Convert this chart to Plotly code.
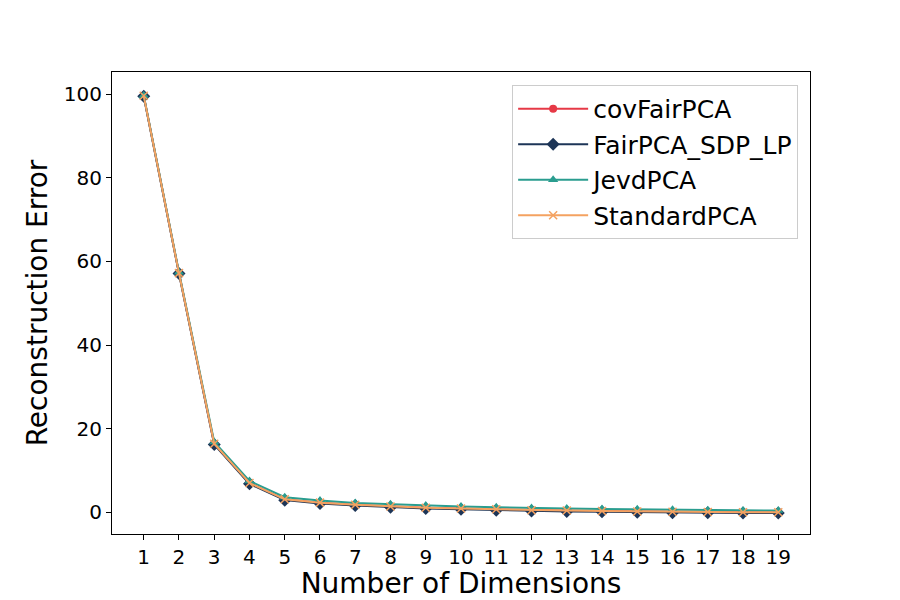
import plotly.graph_objects as go

dims = list(range(1, 20))
cov_fair_pca = [99.6, 57.2, 16.4, 7.0, 3.1, 2.3, 1.8, 1.4, 1.1, 0.9, 0.7, 0.5, 0.4, 0.3, 0.2, 0.1, 0.05, 0.0, 0.0]
fair_pca_sdp_lp = [99.5, 57.1, 16.2, 6.8, 2.9, 2.1, 1.6, 1.2, 0.9, 0.7, 0.5, 0.3, 0.2, 0.1, 0.0, -0.1, -0.1, -0.2, -0.2]
jevd_pca = [99.7, 57.4, 16.8, 7.5, 3.6, 2.8, 2.2, 1.9, 1.6, 1.4, 1.2, 1.0, 0.9, 0.8, 0.7, 0.6, 0.5, 0.45, 0.4]
standard_pca = [99.6, 57.2, 16.4, 7.0, 3.1, 2.3, 1.8, 1.4, 1.1, 0.9, 0.7, 0.5, 0.4, 0.3, 0.2, 0.1, 0.05, 0.0, 0.0]
y_ticks = [0, 20, 40, 60, 80, 100]

series = [
    ("covFairPCA", cov_fair_pca, "#e63946", "circle", 8),
    ("FairPCA_SDP_LP", fair_pca_sdp_lp, "#1d3557", "diamond", 10),
    ("JevdPCA", jevd_pca, "#2a9d8f", "triangle-up", 9),
    ("StandardPCA", standard_pca, "#f4a261", "x-thin", 8),
]

fig = go.Figure()
for name, vals, color, sym, size in series:
    marker = dict(symbol=sym, size=size, color=color)
    if sym == "x-thin":
        marker["line"] = dict(color=color, width=1.5)
    fig.add_trace(go.Scatter(
        x=dims, y=vals, name=name, mode="lines+markers",
        line=dict(color=color, width=2), marker=marker,
    ))

axis_common = dict(
    showline=True, linecolor="black", linewidth=1, mirror=True,
    ticks="outside", ticklen=5, tickcolor="black", showgrid=False,
    zeroline=False, tickfont=dict(size=20, color="black"), automargin=False,
)
fig.update_xaxes(
    range=[0.1, 19.9], tickmode="array", tickvals=dims,
    title=dict(text="Number of Dimensions", font=dict(size=28, color="black"), standoff=2),
    **axis_common,
)
fig.update_yaxes(
    range=[-5.2, 105.3], tickmode="array", tickvals=y_ticks,
    title=dict(text="Reconstruction Error", font=dict(size=28, color="black"), standoff=8),
    **axis_common,
)
fig.update_layout(
    width=892, height=592,
    margin=dict(l=104, r=90, t=64, b=66),
    paper_bgcolor="white", plot_bgcolor="white",
    font=dict(family="DejaVu Sans", color="black"),
    legend=dict(
        x=0.983, y=0.972, xanchor="right", yanchor="top",
        bgcolor="rgba(255,255,255,0.8)", bordercolor="#cccccc", borderwidth=1,
        font=dict(size=25, color="black"), itemwidth=70,
        tracegroupgap=6,
    ),
    showlegend=True,
)
fig.write_html("out.html")
